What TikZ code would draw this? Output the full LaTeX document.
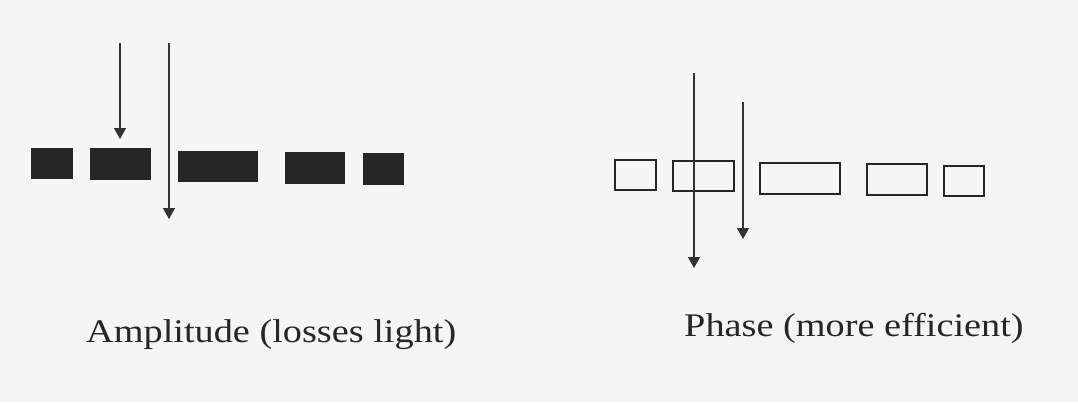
\documentclass[tikz,border=0pt]{standalone}
\usepackage{fontspec}
\setmainfont{Liberation Serif}
\usetikzlibrary{arrows.meta}
\begin{document}
\begin{tikzpicture}[x=1pt,y=-1pt,
  solidblock/.style={draw=black!85,fill=black!85,line width=1pt,inner sep=0pt,anchor=north west},
  openblock/.style={draw=black!85,fill=none,line width=1.8pt,inner sep=0pt,anchor=north west},
  ray/.style={draw=black!80,line width=1.4pt,-{Triangle[width=12pt,length=11pt]}},
  caption/.style={font=\fontsize{33}{36}\selectfont,text=black!85,anchor=base west,inner sep=0pt,xscale=1.16,transform shape}]
\fill[black!4] (0,0) rectangle (1078,402);
\useasboundingbox (0,0) rectangle (1078,402);
% amplitude grating
\node[solidblock,minimum width=41pt,minimum height=30pt] (a1) at (31,148) {};
\node[solidblock,minimum width=60pt,minimum height=31pt] (a2) at (90,148) {};
\node[solidblock,minimum width=79pt,minimum height=30pt] (a3) at (178,151) {};
\node[solidblock,minimum width=59pt,minimum height=31pt] (a4) at (285,152) {};
\node[solidblock,minimum width=40pt,minimum height=31pt] (a5) at (363,153) {};
\coordinate (r1s) at (120,43);
\coordinate (r1e) at (120,139);
\coordinate (r2s) at (169,43);
\coordinate (r2e) at (169,219);
\draw[ray] (r1s) -- (r1e);
\draw[ray] (r2s) -- (r2e);
\node[caption] (cap1) at (86,342) {Amplitude (losses light)};
% phase grating
\node[openblock,minimum width=41pt,minimum height=30pt] (p1) at (614,159) {};
\node[openblock,minimum width=61pt,minimum height=30pt] (p2) at (672,160) {};
\node[openblock,minimum width=80pt,minimum height=31pt] (p3) at (759,162) {};
\node[openblock,minimum width=60pt,minimum height=31pt] (p4) at (866,163) {};
\node[openblock,minimum width=40pt,minimum height=30pt] (p5) at (943,165) {};
\coordinate (r3s) at (694,73);
\coordinate (r3e) at (694,268);
\coordinate (r4s) at (743,102);
\coordinate (r4e) at (743,239);
\draw[ray] (r3s) -- (r3e);
\draw[ray] (r4s) -- (r4e);
\node[caption] (cap2) at (684,336) {Phase (more efficient)};
\end{tikzpicture}
\end{document}
